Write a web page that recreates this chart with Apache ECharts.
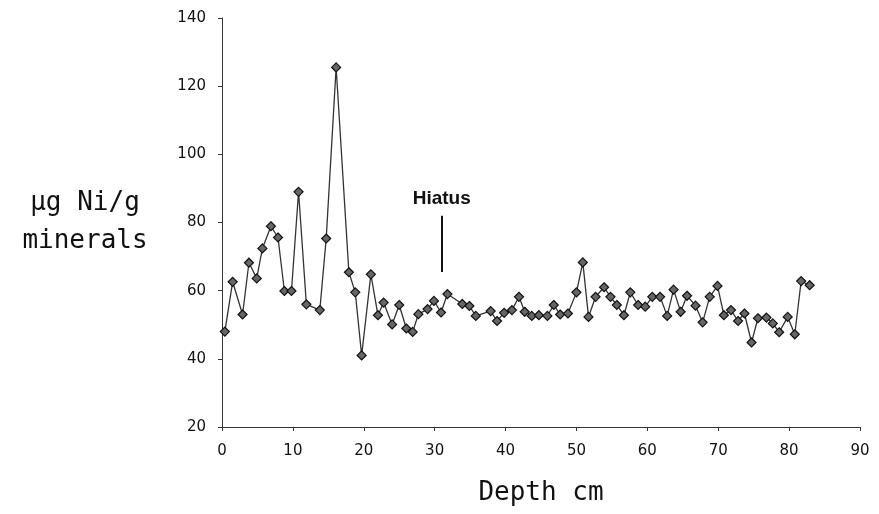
<!DOCTYPE html>
<html>
<head>
<meta charset="utf-8">
<script src="https://cdn.jsdelivr.net/npm/echarts@6/dist/echarts.min.js"></script>
<style>
html,body{margin:0;padding:0;background:#fff;}
#chart{width:879px;height:514px;}
</style>
</head>
<body>
<div id="chart"></div>
<script>
var depth = [0.4, 1.5, 2.9, 3.8, 4.9, 5.7, 6.9, 7.9, 8.8, 9.8, 10.8, 11.9, 13.8, 14.7, 16.1, 17.9, 18.8, 19.7, 21.0, 22.0, 22.8, 24.0, 25.0, 26.0, 26.9, 27.7, 29.0, 29.9, 30.9, 31.8, 33.9, 34.9, 35.8, 37.9, 38.8, 39.8, 40.9, 41.9, 42.7, 43.7, 44.7, 45.9, 46.8, 47.7, 48.8, 50.0, 50.9, 51.7, 52.7, 53.9, 54.8, 55.7, 56.7, 57.6, 58.7, 59.7, 60.7, 61.8, 62.8, 63.7, 64.7, 65.6, 66.8, 67.8, 68.8, 69.9, 70.8, 71.8, 72.8, 73.7, 74.7, 75.6, 76.8, 77.7, 78.6, 79.8, 80.8, 81.7, 82.9];
var nickel = [48, 62.6, 53.0, 68.2, 63.6, 72.4, 78.9, 75.6, 59.9, 59.9, 89.0, 56.0, 54.3, 75.3, 125.5, 65.4, 59.5, 41, 64.8, 52.8, 56.5, 50.1, 55.8, 48.9, 47.9, 53.1, 54.6, 57.0, 53.6, 59.0, 56.1, 55.5, 52.6, 54.0, 51.1, 53.5, 54.3, 58.2, 53.8, 52.6, 52.8, 52.6, 55.8, 53.0, 53.3, 59.5, 68.3, 52.3, 58.2, 61.0, 58.2, 55.8, 52.8, 59.5, 55.8, 55.3, 58.2, 58.2, 52.6, 60.3, 53.8, 58.5, 55.6, 50.7, 58.2, 61.4, 52.8, 54.3, 51.1, 53.3, 44.8, 51.9, 52.1, 50.4, 47.8, 52.3, 47.2, 62.8, 61.6];
var hiatusDepth = 31;
var hiatusRange = [65.5, 82];
var hiatusLabel = 'Hiatus';
var xTitle = 'Depth cm';
var yTitle = 'µg Ni/g\nminerals';

var pts = depth.map(function (d, i) { return [d, nickel[i]]; });

var chart = echarts.init(document.getElementById('chart'));
chart.setOption({
  animation: false,
  backgroundColor: '#fff',
  grid: { left: 222, right: 19, top: 18, bottom: 87, containLabel: false },
  xAxis: {
    type: 'value', min: 0, max: 90, interval: 10,
    name: xTitle, nameLocation: 'middle', nameGap: 53,
    nameTextStyle: { fontFamily: 'DejaVu Sans Mono', fontSize: 26, color: '#111' },
    axisLine: { show: true, onZero: false, lineStyle: { color: '#333', width: 1 } },
    axisTick: { show: true, length: 4, lineStyle: { color: '#333' } },
    axisLabel: { fontFamily: 'DejaVu Sans', fontSize: 15, color: '#111', margin: 17 },
    splitLine: { show: false }
  },
  yAxis: {
    type: 'value', min: 20, max: 140, interval: 20,
    name: yTitle, nameLocation: 'middle', nameGap: 137, nameRotate: 0,
    nameTextStyle: { fontFamily: 'DejaVu Sans Mono', fontSize: 26, color: '#111', align: 'center', verticalAlign: 'middle', lineHeight: 38, padding: [12, 0, 0, 0] },
    axisLine: { show: true, lineStyle: { color: '#333', width: 1 } },
    axisTick: { show: true, length: 4, lineStyle: { color: '#333' } },
    axisLabel: { fontFamily: 'DejaVu Sans', fontSize: 15, color: '#111', margin: 16 },
    splitLine: { show: false }
  },
  series: [{
    type: 'line',
    data: pts,
    symbol: 'diamond',
    symbolSize: 9,
    showAllSymbol: true,
    lineStyle: { color: '#333', width: 1.3 },
    itemStyle: { color: '#666', borderColor: '#111', borderWidth: 1.2 },
    markLine: {
      silent: true,
      symbol: ['none', 'none'],
      lineStyle: { color: '#111', width: 2, type: 'solid' },
      label: {
        show: true, position: 'end', formatter: hiatusLabel, distance: 7,
        fontFamily: 'Liberation Sans', fontWeight: 'bold', fontSize: 19, color: '#111'
      },
      data: [[{ coord: [hiatusDepth, hiatusRange[0]] }, { coord: [hiatusDepth, hiatusRange[1]] }]]
    }
  }]
});
</script>
</body>
</html>
